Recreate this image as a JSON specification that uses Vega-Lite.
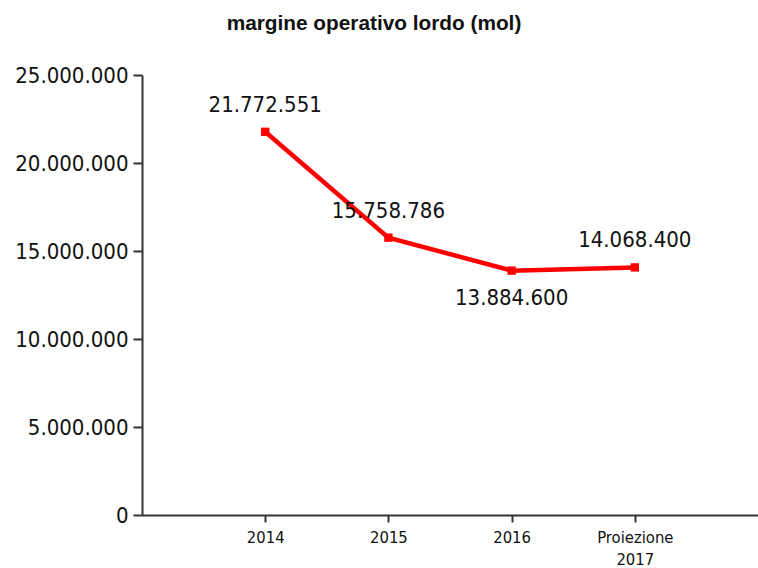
{
  "$schema": "https://vega.github.io/schema/vega-lite/v6.json",
  "width": 616,
  "height": 440,
  "autosize": "none",
  "padding": {"left": 142, "top": 75, "right": 0, "bottom": 53},
  "background": "white",
  "title": {
    "text": "margine operativo lordo (mol)",
    "font": "Liberation Sans",
    "fontSize": 20.8,
    "fontWeight": "bold",
    "color": "#111111",
    "anchor": "middle",
    "frame": "group",
    "dx": -76,
    "baseline": "alphabetic",
    "offset": 13
  },
  "config": {
    "view": {"stroke": null},
    "locale": {"number": {"decimal": ",", "thousands": ".", "grouping": [3], "currency": ["€", ""]}}
  },
  "data": {
    "values": [
      {"anno": "2014", "mol": 21772551},
      {"anno": "2015", "mol": 15758786},
      {"anno": "2016", "mol": 13884600},
      {"anno": "Proiezione 2017", "mol": 14068400}
    ]
  },
  "encoding": {
    "x": {
      "field": "anno",
      "type": "ordinal",
      "sort": null,
      "scale": {"type": "point", "padding": 1},
      "axis": {
        "title": null,
        "labelAngle": 0,
        "labelExpr": "split(datum.label, ' ')",
        "labelFont": "DejaVu Sans Condensed",
        "labelFontSize": 16.5,
        "labelColor": "#111111",
        "labelLineHeight": 22,
        "labelPadding": 7,
        "tickSize": 7,
        "tickWidth": 2,
        "tickColor": "#333333",
        "domainColor": "#333333",
        "domainWidth": 2,
        "grid": false
      }
    },
    "y": {
      "field": "mol",
      "type": "quantitative",
      "scale": {"domain": [0, 25000000]},
      "axis": {
        "title": null,
        "values": [0, 5000000, 10000000, 15000000, 20000000, 25000000],
        "format": ",d",
        "grid": false,
        "labelFont": "DejaVu Sans Condensed",
        "labelFontSize": 22,
        "labelColor": "#111111",
        "labelPadding": 5,
        "tickSize": 9,
        "tickWidth": 2,
        "tickColor": "#333333",
        "domainColor": "#333333",
        "domainWidth": 2
      }
    }
  },
  "layer": [
    {"mark": {"type": "line", "color": "#ff0000", "strokeWidth": 4.5}},
    {"mark": {"type": "point", "shape": "square", "filled": true, "color": "#ff0000", "size": 70, "opacity": 1}},
    {
      "transform": [{"filter": "datum.anno != '2016'"}],
      "mark": {"type": "text", "dy": -27, "font": "DejaVu Sans Condensed", "fontSize": 22, "color": "#111111"},
      "encoding": {"text": {"field": "mol", "type": "quantitative", "format": ",d"}}
    },
    {
      "transform": [{"filter": "datum.anno == '2016'"}],
      "mark": {"type": "text", "dy": 27, "font": "DejaVu Sans Condensed", "fontSize": 22, "color": "#111111"},
      "encoding": {"text": {"field": "mol", "type": "quantitative", "format": ",d"}}
    }
  ]
}
